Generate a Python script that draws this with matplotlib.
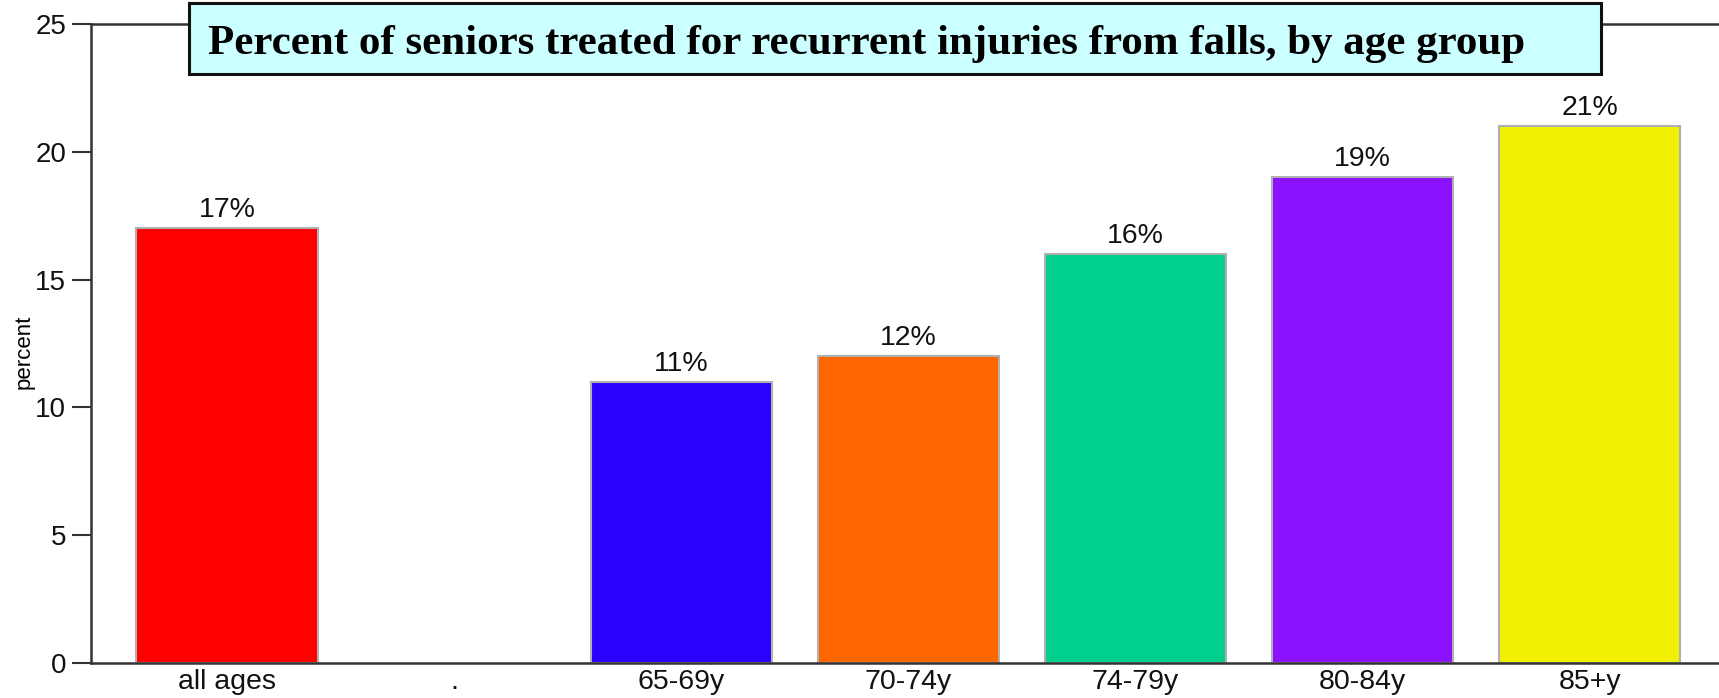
import matplotlib
matplotlib.use("Agg")
import matplotlib.pyplot as plt
from matplotlib.patches import Rectangle

categories = ["all ages", ".", "65-69y", "70-74y", "74-79y", "80-84y", "85+y"]
values = [17, None, 11, 12, 16, 19, 21]
bar_labels = ["17%", "", "11%", "12%", "16%", "19%", "21%"]
colors = ["#FF0000", None, "#2B00FF", "#FF6600", "#00CF8E", "#8A12FF", "#F0F000"]
yticks = [0, 5, 10, 15, 20, 25]
title = "Percent of seniors treated for recurrent injuries from falls, by age group"

W, H = 1719, 698
fig = plt.figure(figsize=(W/100, H/100), dpi=100)
ax = fig.add_axes([91/W, 35/H, 1 - 91/W, (663-24)/H])

for i, (v, c, lab) in enumerate(zip(values, colors, bar_labels)):
    if v is None:
        continue
    ax.bar(i, v, width=0.8, color=c, edgecolor="#B0B0B0", linewidth=1.5)
    ax.text(i, v + 0.2, lab, ha="center", va="bottom", fontsize=20.5,
            family="Liberation Sans", color="#111111")

ax.set_xlim(-0.6, 6.57)
ax.set_ylim(0, 25)
ax.set_xticks(range(len(categories)))
ax.set_xticklabels(categories, fontsize=20.5, family="Liberation Sans", color="#111111")
ax.set_yticks(yticks)
ax.set_yticklabels([str(t) for t in yticks], fontsize=20, family="Liberation Sans", color="#111111")
ax.tick_params(axis="x", length=0, pad=4)
ax.tick_params(axis="y", length=14, width=1.5, color="#333333", pad=4)
ax.set_ylabel("percent", fontsize=16, family="Liberation Sans")
ax.yaxis.set_label_coords(-0.0344, 0.487)
for s in ["left", "bottom", "top"]:
    ax.spines[s].set_color("#333333")
    ax.spines[s].set_linewidth(1.8)
ax.spines["right"].set_visible(False)

# title box
fig.patches.append(Rectangle((189/W, 1 - 74/H), (1601 - 189)/W, (74 - 3)/H,
                             transform=fig.transFigure, facecolor="#CCFFFF",
                             edgecolor="#111111", linewidth=2.2, zorder=5))
fig.text(208/W, 1 - 54/H, title, ha="left", va="baseline",
         fontsize=31, fontweight="bold", family="Liberation Serif", zorder=6)

fig.savefig("out.png", dpi=100)
